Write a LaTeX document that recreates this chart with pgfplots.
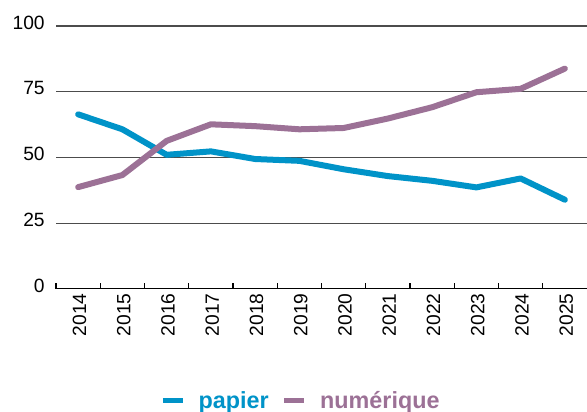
\documentclass[border=0pt]{standalone}
\usepackage{fontspec}
\setmainfont{Liberation Sans}
\usepackage{pgfplots}
\pgfplotsset{compat=1.18}
\definecolor{papier}{HTML}{0093C8}
\definecolor{numerique}{HTML}{9C7196}
\begin{document}
\begin{tikzpicture}
\begin{axis}[
    scale only axis,
    width=398pt, height=197pt,
    xmin=-0.5, xmax=11.5,
    ymin=0, ymax=100,
    axis x line*=bottom,
    axis y line*=left,
    y axis line style={draw=none},
    x axis line style={black, line width=0.9pt},
    xtick={0,...,11},
    xticklabels={2014,2015,2016,2017,2018,2019,2020,2021,2022,2023,2024,2025},
    x tick label style={rotate=90, anchor=east, yshift=-1pt},
    major x tick style={draw=none},
    minor xtick={-0.5,0.5,...,10.5},
    minor x tick style={black, line width=0.8pt},
    minor tick length=4.5pt,
    tick align=inside,
    ytick={0,25,50,75,100},
    major y tick style={draw=none},
    y tick label style={xshift=-5pt, yshift=2.5pt},
    ymajorgrids,
    grid style={black!70, line width=0.8pt},
    tick label style={font=\fontsize{14.4}{14.4}\selectfont},
    /pgf/number format/assume math mode=true,
    clip=false,
    legend columns=2,
    legend style={draw=none, fill=none, at={(axis description cs:0.462,0)}, anchor=center, yshift=-84pt,
        font=\fontsize{17.5}{17.5}\selectfont\bfseries, column sep=8pt},
    legend image code/.code={\draw[#1, line width=3.6pt, line cap=butt] (0pt,0pt) -- (15pt,0pt);},
]
\coordinate (sw) at (rel axis cs:0,0);
\coordinate (ne) at (rel axis cs:1,1);
\addplot[papier, line width=4.5pt, line cap=round, line join=round] coordinates {
    (0,66.4) (1,60.7) (2,51.0) (3,52.3) (4,49.4) (5,48.7)
    (6,45.5) (7,42.9) (8,41.1) (9,38.6) (10,42.0) (11,33.9)
};
\addlegendentry{\textcolor{papier}{papier}}
\addplot[numerique, line width=4.5pt, line cap=round, line join=round] coordinates {
    (0,38.7) (1,43.3) (2,56.3) (3,62.6) (4,61.9) (5,60.7)
    (6,61.2) (7,64.8) (8,69.1) (9,74.8) (10,76.1) (11,83.8)
};
\addlegendentry{\textcolor{numerique}{numérique}}
\end{axis}
\pgfresetboundingbox
\path[use as bounding box] ([xshift=-42pt,yshift=-92.25pt]sw) rectangle ([yshift=19.5pt]ne);
\end{tikzpicture}
\end{document}
